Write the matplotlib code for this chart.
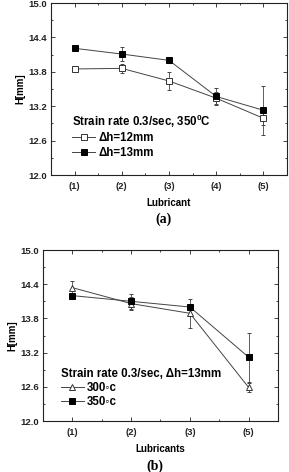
import matplotlib
matplotlib.use("Agg")
import matplotlib.pyplot as plt
from matplotlib.ticker import MultipleLocator, AutoMinorLocator
from matplotlib.lines import Line2D

plt.rcParams['font.family'] = ['Liberation Sans', 'DejaVu Sans']
plt.rcParams['font.weight'] = 'bold'
plt.rcParams['mathtext.fontset'] = 'custom'
plt.rcParams['mathtext.bf'] = 'Liberation Sans:bold'
plt.rcParams['mathtext.rm'] = 'Liberation Sans:bold'

# Panel (a)
lub_a = ["(1)", "(2)", "(3)", "(4)", "(5)"]
h12 = [13.85, 13.86, 13.64, 13.34, 12.99]
h12_err = [0.02, 0.08, 0.15, 0.11, 0.12]
h13 = [14.21, 14.11, 14.00, 13.37, 13.13]
h13_err = [0.02, 0.13, 0.05, 0.15, 0.43]

# Panel (b)
lub_b = ["(1)", "(2)", "(3)", "(5)"]
t300 = [14.34, 14.06, 13.89, 12.59]
t300_err = [0.12, 0.12, 0.25, 0.08]
t350 = [14.20, 14.10, 14.00, 13.12]
t350_err = [0.03, 0.13, 0.06, 0.43]

fig = plt.figure(figsize=(2.89, 4.72), dpi=100)
axa = fig.add_axes([0.1765, 0.6292, 0.8166, 0.3644])
axb = fig.add_axes([0.1488, 0.108, 0.8131, 0.3623])

def style(ax, n, labels, xlabel):
    ax.set_xlim(0.5, n + 0.5)
    ax.set_ylim(12.0, 15.0)
    ax.set_xticks(range(1, n + 1))
    ax.set_xticklabels(labels)
    ax.yaxis.set_major_locator(MultipleLocator(0.6))
    ax.yaxis.set_minor_locator(AutoMinorLocator(2))
    ax.xaxis.set_minor_locator(AutoMinorLocator(2))
    ax.tick_params(which='both', direction='in', top=True, right=True,
                   labelsize=6.8, width=0.6, colors='#222222')
    ax.tick_params(which='major', length=3)
    ax.tick_params(axis='x', which='major', pad=5)
    ax.tick_params(axis='y', which='major', pad=3)
    ax.tick_params(which='minor', length=1.6)
    for lab in ax.get_xticklabels() + ax.get_yticklabels():
        lab.set_fontweight('bold')
    for s in ax.spines.values():
        s.set_linewidth(0.8)
        s.set_color('#222222')
    ax.set_ylabel("H[mm]", fontsize=7, fontweight='bold', labelpad=2)
    ax.set_xlabel(xlabel, fontsize=7, fontweight='bold', labelpad=5)

xa = list(range(1, len(lub_a) + 1))
xb = list(range(1, len(lub_b) + 1))
ekw = dict(lw=0.7, color='#444444', ecolor='#444444', elinewidth=0.6, capsize=1.5, capthick=0.6,
           ms=4.3, markeredgewidth=0.7)

def handle(marker, mfc, ms=4.3):
    return Line2D([], [], color='#444444', lw=0.7, marker=marker, mfc=mfc,
                  mec='#333333' if mfc == 'white' else 'black', ms=ms, markeredgewidth=0.7)

axa.errorbar(xa, h12, yerr=h12_err, marker='s', mfc='white', mec='#333333', **ekw)
axa.errorbar(xa, h13, yerr=h13_err, marker='s', mfc='black', mec='black', **ekw)
style(axa, len(lub_a), lub_a, "Lubricant")
leg = axa.legend([handle('s', 'white'), handle('s', 'black')], ["Δh=12mm", "Δh=13mm"],
                 title=r"Strain rate 0.3/sec, 350$^{\mathbf{0}}$C", loc='lower left',
                 bbox_to_anchor=(0.09, 0.095), frameon=False, fontsize=8.3,
                 title_fontsize=8.3, alignment='left', handlelength=2.0, handletextpad=0.3,
                 borderpad=0, labelspacing=0.2, borderaxespad=0)
leg.get_title().set_fontweight('bold')

axb.errorbar(xb, t300, yerr=t300_err, marker='^', mfc='white', mec='#333333',
             **{**ekw, 'ms': 5})
axb.errorbar(xb, t350, yerr=t350_err, marker='s', mfc='black', mec='black', **ekw)
style(axb, len(lub_b), lub_b, "Lubricants")
leg = axb.legend([handle('^', 'white', 5), handle('s', 'black')], ["300◦c", "350◦c"],
                 title="Strain rate 0.3/sec, Δh=13mm", loc='lower left',
                 bbox_to_anchor=(0.075, 0.075), frameon=False, fontsize=8.3,
                 title_fontsize=8.3, alignment='left', handlelength=2.0, handletextpad=0.3,
                 borderpad=0, labelspacing=0.2, borderaxespad=0)
leg.get_title().set_fontweight('bold')

fig.text(0.1765 + 0.8166 / 2 - 0.02, 1 - 219 / 472, "(a)", ha='center', va='center',
         fontsize=10, fontweight='bold', family='Liberation Serif')
fig.text(0.1488 + 0.8131 / 2 - 0.02, 1 - 466 / 472, "(b)", ha='center', va='center',
         fontsize=10, fontweight='bold', family='Liberation Serif')

fig.savefig("out.png", dpi=100)
